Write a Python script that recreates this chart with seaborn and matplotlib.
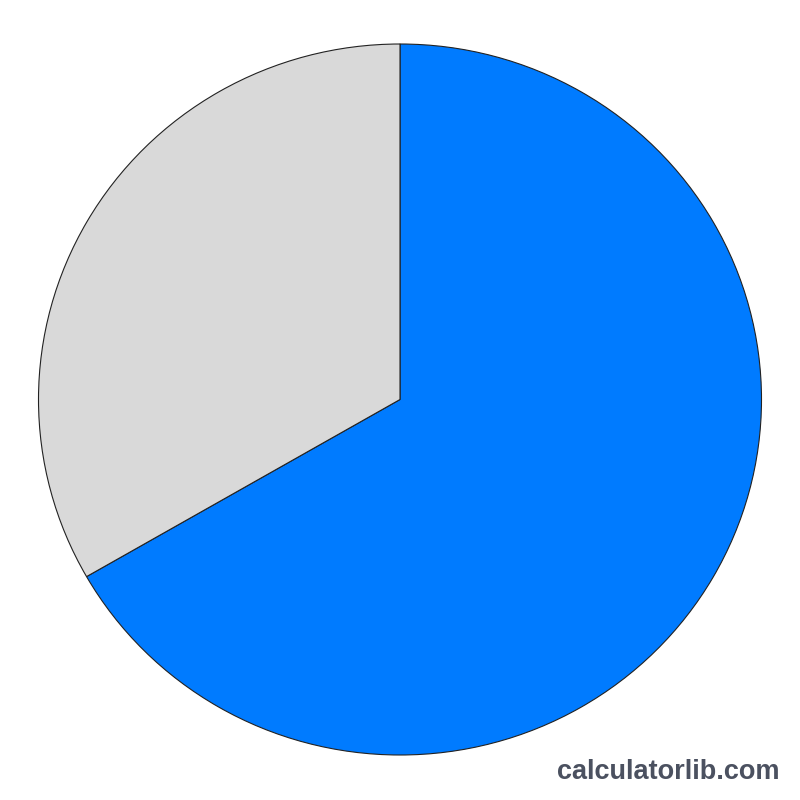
import matplotlib
matplotlib.use("Agg")
import matplotlib.pyplot as plt
import seaborn as sns

labels = ["Part", "Rest"]
values = [66.7, 33.3]
colors = ["#007bff", "#d9d9d9"]

sns.set_theme(style="white")
plt.rcParams["font.family"] = ["Liberation Sans", "DejaVu Sans"]

fig = plt.figure(figsize=(8, 8), dpi=100)
ax = fig.add_axes([0, 0, 1, 1])

ax.pie(values, colors=colors, startangle=90, counterclock=False,
       wedgeprops=dict(edgecolor="#222222", linewidth=0.8))

# reference pie is slightly wider than tall
rx, ry = 361.5, 355.5
ax.set_aspect("auto")
ax.set_xlim(-400 / rx, 400 / rx)
ax.set_ylim(-400.5 / ry, 399.5 / ry)
ax.axis("off")

fig.text(0.975, 0.035, "calculatorlib.com", ha="right", va="center",
         fontsize=19.5, fontweight="bold", color="#4b5160")

fig.savefig("out.png", dpi=100, facecolor="white")
